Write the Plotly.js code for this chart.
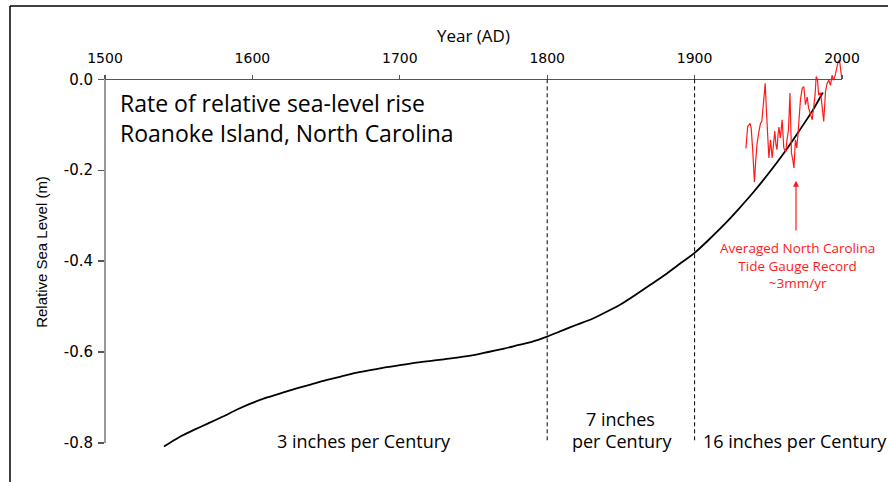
<!DOCTYPE html>
<html>
<head>
<meta charset="utf-8">
<script src="https://cdn.plot.ly/plotly-3.0.1.min.js"></script>
<style>html,body{margin:0;padding:0;background:#fff;}#chart{width:888px;height:482px;}</style>
</head>
<body>
<div id="chart"></div>
<script>
// Reconstructed (smoothed) relative sea level, Roanoke Island
const reconYears = [1540,1550,1560,1570,1580,1590,1600,1610,1620,1630,1640,1650,1660,1670,1680,1690,1700,1710,1720,1730,1740,1750,1760,1770,1780,1790,1800,1810,1820,1830,1840,1850,1860,1870,1880,1890,1900,1910,1920,1930,1940,1950,1960,1970,1980,1987];
const reconLevel = [-0.808,-0.788,-0.772,-0.757,-0.742,-0.726,-0.712,-0.700,-0.690,-0.680,-0.671,-0.662,-0.654,-0.646,-0.640,-0.634,-0.629,-0.624,-0.620,-0.616,-0.612,-0.607,-0.600,-0.593,-0.585,-0.577,-0.566,-0.553,-0.540,-0.528,-0.512,-0.495,-0.474,-0.452,-0.430,-0.406,-0.382,-0.352,-0.320,-0.285,-0.248,-0.208,-0.165,-0.118,-0.069,-0.029];

// Averaged North Carolina tide gauge record
const gaugeYears = [1934.8,1936.0,1937.7,1938.4,1939.4,1940.6,1941.5,1942.4,1943.5,1944.7,1945.6,1946.3,1947.0,1947.9,1948.7,1949.2,1949.9,1950.4,1951.5,1952.6,1953.5,1954.4,1955.2,1955.9,1956.6,1957.2,1958.2,1959.4,1960.5,1961.8,1962.7,1963.7,1964.7,1965.7,1966.6,1967.4,1968.4,1969.3,1970.1,1970.8,1971.8,1973.0,1974.1,1975.2,1976.4,1977.3,1978.3,1979.8,1980.6,1981.7,1982.5,1983.4,1984.2,1985.4,1986.4,1987.6,1988.8,1989.9,1991.0,1992.2,1993.3,1994.2,1995.4,1996.3,1997.4,1998.3,1999.7];
const gaugeLevel = [-0.152,-0.104,-0.097,-0.108,-0.155,-0.226,-0.177,-0.141,-0.118,-0.097,-0.093,-0.067,-0.045,-0.009,-0.067,-0.104,-0.144,-0.173,-0.133,-0.173,-0.144,-0.114,-0.144,-0.155,-0.122,-0.105,-0.129,-0.089,-0.151,-0.160,-0.133,-0.111,-0.030,-0.162,-0.177,-0.195,-0.133,-0.151,-0.122,-0.096,-0.045,-0.020,-0.016,-0.056,-0.039,-0.063,-0.072,-0.089,-0.067,-0.035,0.006,-0.002,-0.035,-0.030,-0.056,-0.093,-0.027,-0.009,-0.002,-0.013,0.009,-0.002,0.009,0.024,0.039,0.042,0.005];

const xTickVals = [1500,1600,1700,1800,1900,2000];
const xTickText = ['1500','1600','1700','1800','1900','2000'];
const yTickVals = [0,-0.2,-0.4,-0.6,-0.8];
const yTickText = ['0.0','-0.2','-0.4','-0.6','-0.8'];
const boundaryYears = [1800,1900];

const yMin = -0.82, yMax = 0.06;
const xAxisPos = (0 - yMin) / (yMax - yMin);

const traces = [
  {x: reconYears, y: reconLevel, type:'scatter', mode:'lines',
   line:{color:'#000', width:1.8, shape:'spline', smoothing:0.6}, hoverinfo:'skip'},
  {x: gaugeYears, y: gaugeLevel, type:'scatter', mode:'lines',
   line:{color:'#ff1a1a', width:1.2}, hoverinfo:'skip'}
];

const shapes = boundaryYears.map(v => ({type:'line', xref:'x', yref:'y', x0:v, x1:v, y0:0, y1:-0.8,
  line:{color:'#000', width:1, dash:'4px,3px'}}));
// left axis line (only from 0.0 down to -0.8)
shapes.push({type:'line', xref:'paper', yref:'y', x0:0, x1:0, y0:0, y1:-0.8, line:{color:'#555', width:1.2}});
// outer frame
shapes.push({type:'line', xref:'paper', yref:'paper', x0:-0.1289, x1:-0.1289, y0:1.1149, y1:-0.2, line:{color:'#000', width:1.5}});
shapes.push({type:'line', xref:'paper', yref:'paper', x0:-0.1289, x1:1.2, y0:1.1149, y1:1.1149, line:{color:'#000', width:1.5}});

const txtFont = {family:'Open Sans, sans-serif', size:18, color:'#000'};
const redFont = {family:'Open Sans, sans-serif', size:13.5, color:'#ff1a1a'};
const titleFont = {family:'Open Sans, sans-serif', size:23, color:'#000'};
function lbl(x, y, text, font, xanchor, align) {
  return {xref:'x', yref:'y', x:x, y:y, xanchor:xanchor||'center', yanchor:'middle', align:align||'center',
    showarrow:false, text:text, font:font};
}
const annotations = [
  lbl(1509, -0.085, 'Rate of relative sea-level rise<br>Roanoke Island, North Carolina', titleFont, 'left', 'left'),
  lbl(1676, -0.795, '3 inches per Century', txtFont),
  lbl(1850, -0.748, '7 inches', txtFont),
  lbl(1851, -0.795, 'per Century', txtFont),
  lbl(1968, -0.795, '16 inches per Century', txtFont),
  lbl(1969.5, -0.409, 'Averaged North Carolina<br>Tide Gauge Record<br>~3mm/yr', redFont),
  {xref:'x', yref:'y', x:1968.8, y:-0.223, axref:'x', ayref:'y', ax:1968.8, ay:-0.336,
   showarrow:true, arrowhead:2, arrowsize:1, arrowwidth:1.2, arrowcolor:'#ff1a1a', text:''}
];

const layout = {
  width:888, height:482,
  margin:{l:105, r:46, t:52, b:30},
  paper_bgcolor:'#fff', plot_bgcolor:'#fff',
  showlegend:false,
  xaxis:{range:[1500,2000], side:'top', anchor:'free', position:xAxisPos,
    tickvals:xTickVals, ticktext:xTickText,
    showgrid:false, zeroline:false, showline:true, linecolor:'#555', linewidth:1.2,
    ticks:'outside', ticklen:4, tickcolor:'#555', tickwidth:1.2, ticklabelstandoff:7,
    tickfont:{family:'DejaVu Sans, sans-serif', size:14, color:'#000'},
    title:{text:'Year (AD)', font:{family:'Open Sans, sans-serif', size:17, color:'#000'}, standoff:1}},
  yaxis:{range:[yMin,yMax], tickvals:yTickVals, ticktext:yTickText,
    showgrid:false, zeroline:false, showline:false,
    ticks:'outside', ticklen:6, tickcolor:'#555', tickwidth:1.2, ticklabelstandoff:2,
    tickfont:{family:'DejaVu Sans, sans-serif', size:15, color:'#000'},
    title:{text:'Relative Sea Level (m)', font:{family:'Liberation Sans, Arial, sans-serif', size:15, color:'#000'}, standoff:12}},
  shapes:shapes, annotations:annotations
};

Plotly.newPlot('chart', traces, layout, {staticPlot:true, displayModeBar:false});
</script>
</body>
</html>
